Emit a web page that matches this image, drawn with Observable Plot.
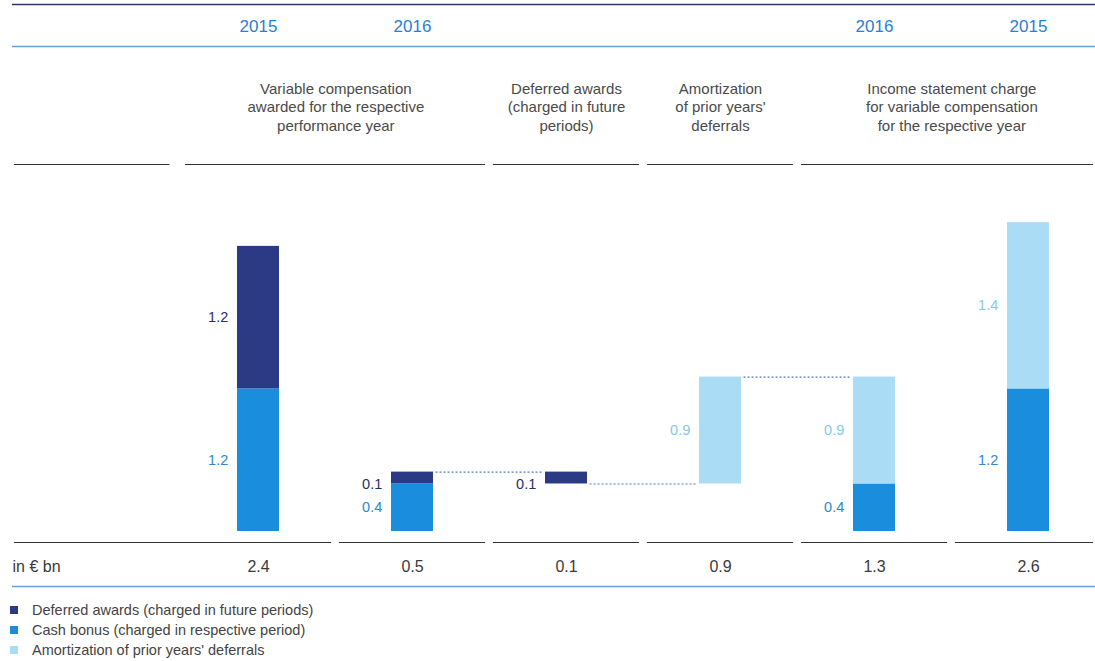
<!DOCTYPE html>
<html>
<head>
<meta charset="utf-8">
<script src="https://cdn.jsdelivr.net/npm/d3@7"></script>
<script src="https://cdn.jsdelivr.net/npm/@observablehq/plot@0.6"></script>
<style>
  body { margin: 0; background: #fff; font-family: "Liberation Sans", Arial, sans-serif; }
  svg { display: block; }
  #legend { font-size: 14.5px; color: #444; padding-left: 10px; }
  #legend .row { height: 20px; line-height: 20px; display: flex; align-items: center; }
  #legend .sw { width: 8px; height: 8px; margin-right: 14px; display: inline-block; }
</style>
</head>
<body>
<div id="chart"></div>
<div id="legend"></div>
<script>
// ---- data ----
const columns = ["2015 awarded", "2016 awarded", "Deferred awards", "Amortization", "2016 charge", "2015 charge"];
const yearLabels = ["2015", "2016", "", "", "2016", "2015"];
const baseValues = [0, 0, 0.4, 0.4, 0, 0];          // waterfall start of each bar
const cashValues = [1.2, 0.4, 0, 0, 0.4, 1.2];
const deferredValues = [1.2, 0.1, 0.1, 0, 0, 0];
const amortValues = [0, 0, 0, 0.9, 0.9, 1.4];
const totalLabels = ["2.4", "0.5", "0.1", "0.9", "1.3", "2.6"];
const seriesNames = [
  "Deferred awards (charged in future periods)",
  "Cash bonus (charged in respective period)",
  "Amortization of prior years' deferrals"
];
const headerTexts = [
  "Variable compensation\nawarded for the respective\nperformance year",
  "Deferred awards\n(charged in future\nperiods)",
  "Amortization\nof prior years'\ndeferrals",
  "Income statement charge\nfor variable compensation\nfor the respective year"
];
const headerSpans = [[0, 1], [2, 2], [3, 3], [4, 5]];
const connectorPairs = [[1, 2, "top"], [2, 3, "base"], [3, 4, "top"]];
const unitLabel = "in € bn";

// ---- styles ----
const seriesColors = ["#2c3a85", "#1a8ddc", "#aadcf5"];
const labelColors = ["#272f6c", "#2f86d2", "#86c8ec"];

// ---- derived tables ----
const stackOrder = [
  [seriesNames[1], cashValues],
  [seriesNames[0], deferredValues],
  [seriesNames[2], amortValues]
];
const segments = [];
columns.forEach((c, i) => {
  let y = baseValues[i];
  for (const [name, vals] of stackOrder) {
    const v = vals[i];
    if (v > 0) {
      segments.push({column: c, series: name, value: v, y1: y, y2: y + v});
      y += v;
    }
  }
});
const tops = columns.map((c, i) => baseValues[i] + cashValues[i] + deferredValues[i] + amortValues[i]);
const connectors = connectorPairs.map(([a, b, at]) => ({
  from: columns[a], to: columns[b], value: at === "top" ? tops[a] : baseValues[b]
}));
const headers = headerTexts.map((t, i) => ({text: t, from: columns[headerSpans[i][0]], span: headerSpans[i][1] - headerSpans[i][0]}));
const years = columns.map((c, i) => ({column: c, year: yearLabels[i]})).filter(d => d.year);
const totals = columns.map((c, i) => ({column: c, text: totalLabels[i]}));

// ---- layout ----
const W = 1095, H = 600;
const X0 = 179, X1 = 1107, PAD = 0.725;
const step = (X1 - X0) / columns.length;
const bw = step * (1 - PAD);
const ext = (step - bw) / 2 - 4;
const firstBandStart = X0 + step * PAD / 2;
const lastBandEnd = X1 - step * PAD / 2;
const LEFT = 12;
const Y0 = 531, UNIT = 118.8;
const zero = () => 0;
const off = (py) => py - Y0;   // pixel row relative to the zero baseline
const font = "Liberation Sans, Arial, sans-serif";
const sep = {stroke: "#333", strokeWidth: 1.2};

const labelMarks = seriesNames.flatMap((s, k) => [
  Plot.text(segments.filter(d => d.series === s && d.value >= 0.2), {
    x: "column", y: d => (d.y1 + d.y2) / 2, text: d => d.value.toFixed(1),
    textAnchor: "end", dx: -(bw / 2 + 9), fill: labelColors[k], fontSize: 14.5
  }),
  Plot.text(segments.filter(d => d.series === s && d.value < 0.2), {
    x: "column", y: d => (d.y1 + d.y2) / 2, text: d => d.value.toFixed(1),
    textAnchor: "end", dx: -(bw / 2 + 9), dy: 6, fill: labelColors[k], fontSize: 14.5
  })
]);

const chart = Plot.plot({
  width: W, height: H,
  marginLeft: 0, marginRight: 0, marginTop: 0, marginBottom: 0,
  style: {background: "#fff", fontFamily: font, overflow: "visible"},
  x: {type: "band", domain: columns, range: [X0, X1], paddingInner: PAD, paddingOuter: PAD / 2, axis: null},
  y: {domain: [0, 2.6], range: [Y0, Y0 - 2.6 * UNIT], axis: null},
  color: {domain: seriesNames, range: seriesColors},
  marks: [
    // table lines
    Plot.ruleY([0], {y: zero, dy: off(4), insetLeft: LEFT, stroke: "#2e3668", strokeWidth: 1.6}),
    Plot.ruleY([0], {y: zero, dy: off(46), insetLeft: LEFT, stroke: "#6a9fd8", strokeWidth: 1.5}),
    Plot.ruleY([0], {y: zero, dy: off(586), insetLeft: LEFT, stroke: "#6a9fd8", strokeWidth: 1.5}),
    // top column separators
    Plot.ruleY([{from: columns[0], to: columns[0]}], {y: zero, x1: "from", x2: "to", dy: off(164),
      insetLeft: -(firstBandStart - LEFT), insetRight: bw + (step - bw) / 2 + 11, ...sep}),
    Plot.ruleY([{from: columns[0], to: columns[1]}, {from: columns[2], to: columns[2]}, {from: columns[3], to: columns[3]}],
      {y: zero, x1: "from", x2: "to", dy: off(164), insetLeft: -ext, insetRight: -ext, ...sep}),
    Plot.ruleY([{from: columns[4], to: columns[5]}], {y: zero, x1: "from", x2: "to", dy: off(164),
      insetLeft: -ext, insetRight: -(W - lastBandEnd), ...sep}),
    // bottom column separators
    Plot.ruleY([{from: columns[0], to: columns[0]}], {y: zero, x1: "from", x2: "to", dy: off(542),
      insetLeft: -(firstBandStart - LEFT), insetRight: -ext, ...sep}),
    Plot.ruleY(columns.slice(1, 5).map(c => ({from: c, to: c})),
      {y: zero, x1: "from", x2: "to", dy: off(542), insetLeft: -ext, insetRight: -ext, ...sep}),
    Plot.ruleY([{from: columns[5], to: columns[5]}], {y: zero, x1: "from", x2: "to", dy: off(542),
      insetLeft: -ext, insetRight: -(W - lastBandEnd), ...sep}),
    // header texts
    Plot.text(years, {x: "column", text: "year", frameAnchor: "top", lineAnchor: "middle", dy: 26, fill: "#2b7ed0", fontSize: 17}),
    Plot.text(headers.filter(d => d.span === 0), {x: "from", text: "text", frameAnchor: "top", lineAnchor: "middle", dy: 106, lineHeight: 1.23, fill: "#4a4a4a", fontSize: 15}),
    Plot.text(headers.filter(d => d.span === 1), {x: "from", text: "text", frameAnchor: "top", lineAnchor: "middle", dx: step / 2, dy: 106, lineHeight: 1.23, fill: "#4a4a4a", fontSize: 15}),
    // connectors
    Plot.ruleY(connectors, {x1: "from", x2: "to", y: "value", insetLeft: bw + 2, insetRight: bw + 2, stroke: "#4f7cc2", strokeWidth: 1.2, strokeDasharray: "2,2"}),
    // bars
    Plot.barY(segments, {x: "column", y1: "y1", y2: "y2", fill: "series"}),
    ...labelMarks,
    // totals row
    Plot.text(totals, {x: "column", text: "text", frameAnchor: "top", lineAnchor: "middle", dy: 566, fill: "#3a3a3a", fontSize: 16}),
    Plot.text([unitLabel], {text: d => d, frameAnchor: "top-left", lineAnchor: "middle", textAnchor: "start", dx: LEFT, dy: 566, fill: "#3a3a3a", fontSize: 16})
  ]
});
document.getElementById("chart").appendChild(chart);

// legend
const legend = document.getElementById("legend");
seriesNames.forEach((name, i) => {
  const row = document.createElement("div");
  row.className = "row";
  const sw = document.createElement("span");
  sw.className = "sw";
  sw.style.background = seriesColors[i];
  row.appendChild(sw);
  row.appendChild(document.createTextNode(name));
  legend.appendChild(row);
});
</script>
</body>
</html>
